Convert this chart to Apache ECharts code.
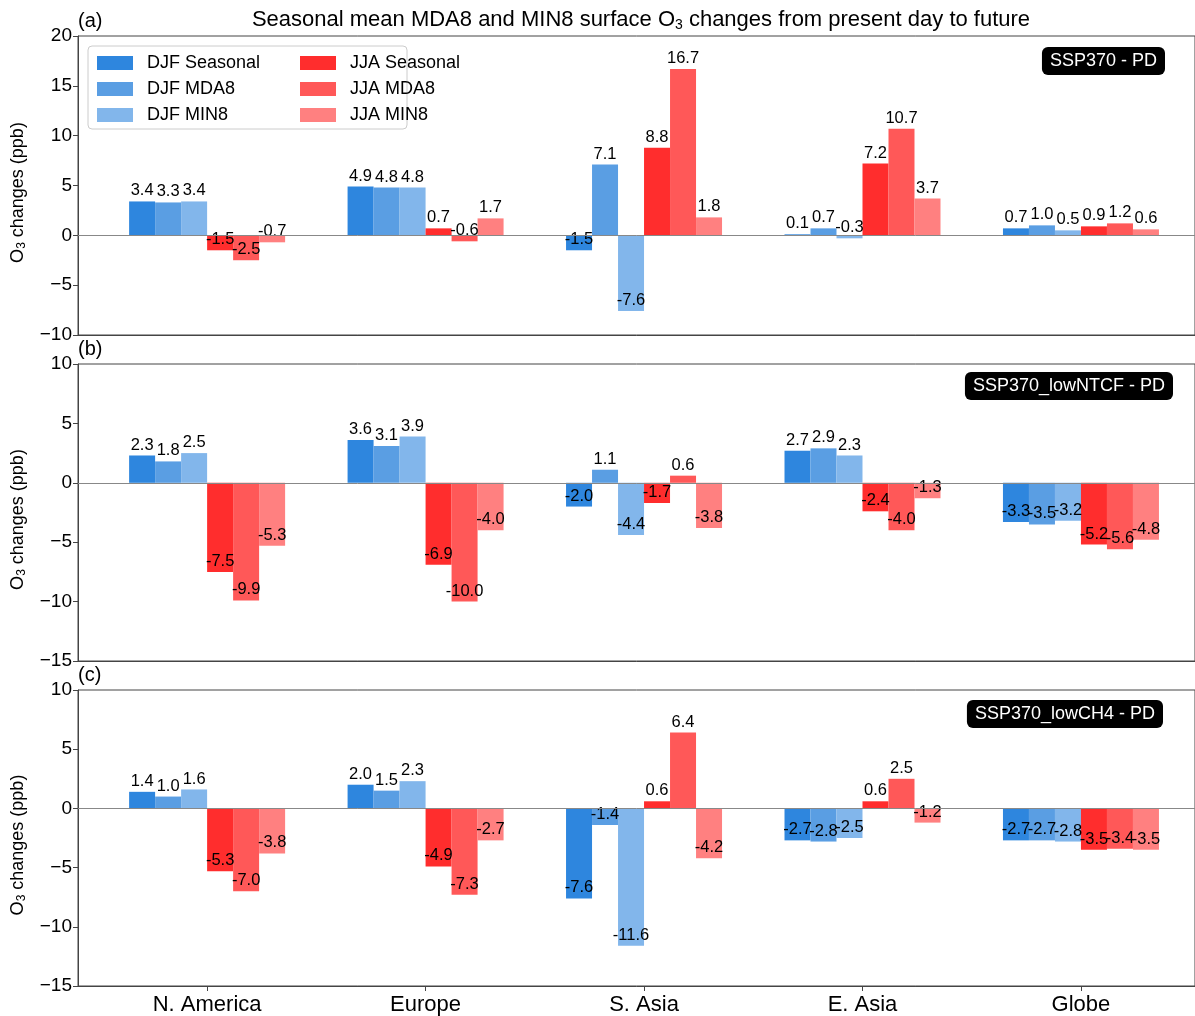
<!DOCTYPE html>
<html>
<head>
<meta charset="utf-8">
<script src="https://cdn.jsdelivr.net/npm/echarts@6/dist/echarts.min.js"></script>
<style>
  html, body { margin: 0; padding: 0; background: #fff; }
  #chart { width: 1195px; height: 1016px; }
</style>
</head>
<body>
<div id="chart"></div>
<script>
const regions = ['N. America', 'Europe', 'S. Asia', 'E. Asia', 'Globe'];
const seriesNames = ['DJF Seasonal', 'DJF MDA8', 'DJF MIN8', 'JJA Seasonal', 'JJA MDA8', 'JJA MIN8'];

// (a) SSP370 - PD
const djfSeasonalA = [3.4, 4.9, -1.5, 0.1, 0.7];
const djfMda8A     = [3.3, 4.8, 7.1, 0.7, 1.0];
const djfMin8A     = [3.4, 4.8, -7.6, -0.3, 0.5];
const jjaSeasonalA = [-1.5, 0.7, 8.8, 7.2, 0.9];
const jjaMda8A     = [-2.5, -0.6, 16.7, 10.7, 1.2];
const jjaMin8A     = [-0.7, 1.7, 1.8, 3.7, 0.6];

// (b) SSP370_lowNTCF - PD
const djfSeasonalB = [2.3, 3.6, -2.0, 2.7, -3.3];
const djfMda8B     = [1.8, 3.1, 1.1, 2.9, -3.5];
const djfMin8B     = [2.5, 3.9, -4.4, 2.3, -3.2];
const jjaSeasonalB = [-7.5, -6.9, -1.7, -2.4, -5.2];
const jjaMda8B     = [-9.9, -10.0, 0.6, -4.0, -5.6];
const jjaMin8B     = [-5.3, -4.0, -3.8, -1.3, -4.8];

// (c) SSP370_lowCH4 - PD
const djfSeasonalC = [1.4, 2.0, -7.6, -2.7, -2.7];
const djfMda8C     = [1.0, 1.5, -1.4, -2.8, -2.7];
const djfMin8C     = [1.6, 2.3, -11.6, -2.5, -2.8];
const jjaSeasonalC = [-5.3, -4.9, 0.6, 0.6, -3.5];
const jjaMda8C     = [-7.0, -7.3, 6.4, 2.5, -3.4];
const jjaMin8C     = [-3.8, -2.7, -4.2, -1.2, -3.5];

const colors = ['#2E86DE', '#5A9EE3', '#82B6EB', '#FF2D2D', '#FF5858', '#FF8080'];
const font = "'Liberation Sans', Arial, Helvetica, sans-serif";

const panels = [
    { tag: '(a)', badge: 'SSP370 - PD', top: 36, height: 299, min: -10, max: 20,
      values: [djfSeasonalA, djfMda8A, djfMin8A, jjaSeasonalA, jjaMda8A, jjaMin8A] },
    { tag: '(b)', badge: 'SSP370_lowNTCF - PD', top: 364, height: 297, min: -15, max: 10,
      values: [djfSeasonalB, djfMda8B, djfMin8B, jjaSeasonalB, jjaMda8B, jjaMin8B] },
    { tag: '(c)', badge: 'SSP370_lowCH4 - PD', top: 690, height: 297, min: -15, max: 10,
      values: [djfSeasonalC, djfMda8C, djfMin8C, jjaSeasonalC, jjaMda8C, jjaMin8C] }
];

const chart = echarts.init(document.getElementById('chart'));

const grids = [], xAxes = [], yAxes = [], series = [], titles = [];
const lastIdx = panels.length - 1;

panels.forEach((p, pi) => {
    grids.push({ left: 78, right: 0, top: p.top, height: p.height, show: true,
                 borderColor: '#444', borderWidth: 1, backgroundColor: 'transparent' });
    const isLast = pi === lastIdx;
    xAxes.push({
        type: 'value', gridIndex: pi, min: -0.591, max: 4.522,
        axisLine: { show: true, onZero: false, lineStyle: { color: '#444', width: 1 } },
        axisTick: { show: isLast, customValues: [0, 1, 2, 3, 4], length: 5, lineStyle: { color: '#444' } },
        axisLabel: { show: isLast, customValues: [0, 1, 2, 3, 4], formatter: v => regions[v] || '',
                     fontSize: 22, color: '#000', fontFamily: font, margin: 8 },
        splitLine: { show: false }
    });
    yAxes.push({
        type: 'value', gridIndex: pi, min: p.min, max: p.max, interval: 5,
        axisLine: { show: true, onZero: false, lineStyle: { color: '#444', width: 1 } },
        axisTick: { show: true, length: 5, lineStyle: { color: '#444' } },
        axisLabel: { fontSize: 19, color: '#000', fontFamily: font, margin: 6,
                     formatter: v => v < 0 ? '\u2212' + Math.abs(v) : String(v) },
        splitLine: { show: false },
        name: '{n|O}{s|3}{n| changes (ppb)}',
        nameLocation: 'middle', nameGap: 50,
        nameTextStyle: { padding: [0, 14, 0, 0], rich: {
            n: { fontSize: 18, color: '#000', fontFamily: font },
            s: { fontSize: 12, color: '#000', fontFamily: font, padding: [8, 0, 0, 0] }
        } }
    });
    p.values.forEach((vals, si) => {
        const s = {
            type: 'bar', name: seriesNames[si], xAxisIndex: pi, yAxisIndex: pi,
            barWidth: 26, barGap: '0%',
            itemStyle: { color: colors[si] },
            label: { show: true, fontSize: 16.5, color: '#000', fontFamily: font, distance: 2,
                     formatter: d => d.value[1].toFixed(1) },
            labelLayout: { hideOverlap: false },
            data: vals.map((v, k) => ({ value: [k, v],
                label: { position: v < 0 ? 'insideBottom' : 'top' } }))
        };
        if (si === 0) {
            s.markLine = { silent: true, symbol: ['none', 'none'], label: { show: false },
                lineStyle: { color: '#888', type: 'solid', width: 1 },
                data: [{ yAxis: 0 }] };
        }
        series.push(s);
    });
});

const badgeRight = [30, 22, 32];
const badgeTop = [47, 372, 700];
panels.forEach((p, pi) => {
    titles.push({
        text: p.badge, right: badgeRight[pi], top: badgeTop[pi],
        backgroundColor: '#000', borderRadius: 6, padding: [5, 8, 5, 8],
        textStyle: { color: '#fff', fontSize: 18, fontWeight: 'normal', fontFamily: font }
    });
});

const graphics = [
    { type: 'text', x: 641, y: 20, style: {
        text: '{t|Seasonal mean MDA8 and MIN8 surface O}{s|3}{t| changes from present day to future}',
        align: 'center', verticalAlign: 'middle',
        rich: { t: { fontSize: 22, fill: '#000', fontFamily: font },
                s: { fontSize: 14, fill: '#000', fontFamily: font, padding: [10, 0, 0, 0] } } } },
    { type: 'rect', shape: { x: 88, y: 46, width: 319, height: 83, r: 4 },
      style: { fill: 'rgba(255,255,255,0.8)', stroke: '#ccc', lineWidth: 1 }, z: 3 }
];
panels.forEach((p, pi) => {
    graphics.push({ type: 'text', x: 78, y: p.top - 15, style: {
        text: p.tag, fontSize: 20, fill: '#000', fontFamily: font, verticalAlign: 'middle' } });
});

const legendBase = {
    orient: 'vertical', top: 49, itemWidth: 36, itemHeight: 14, itemGap: 8, icon: 'rect',
    textStyle: { fontSize: 18, color: '#000', fontFamily: font, padding: [0, 0, 0, 9] }, z: 5
};

chart.setOption({
    animation: false,
    backgroundColor: '#fff',
    title: titles,
    legend: [
        Object.assign({}, legendBase, { left: 92, data: seriesNames.slice(0, 3) }),
        Object.assign({}, legendBase, { left: 295, data: seriesNames.slice(3) })
    ],
    grid: grids,
    xAxis: xAxes,
    yAxis: yAxes,
    graphic: graphics,
    series: series
});
</script>
</body>
</html>
